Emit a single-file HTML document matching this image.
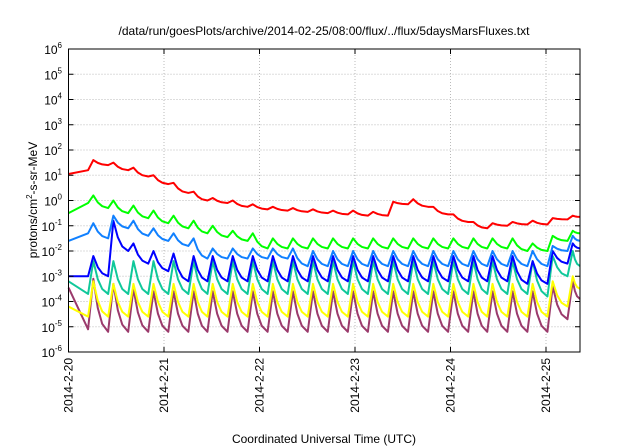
<!DOCTYPE html>
<html><head><meta charset="utf-8"><style>
body{margin:0;background:#fff;}
svg{display:block;font-family:"Liberation Sans",sans-serif;}
</style></head><body>
<svg id="chart" width="640" height="448" viewBox="0 0 640 448" xmlns="http://www.w3.org/2000/svg">
<text x="324" y="35" font-size="12" text-anchor="middle">/data/run/goesPlots/archive/2014-02-25/08:00/flux/../flux/5daysMarsFluxes.txt</text>
<g id="grid"></g>
<g id="series"></g>
<rect x="68.5" y="49" width="511.5" height="303" fill="none" stroke="#000" stroke-width="1"/>
<g id="axes"></g>
<text x="324" y="443" font-size="12" text-anchor="middle">Coordinated Universal Time (UTC)</text>
<text transform="translate(37,200) rotate(-90)" font-size="12" text-anchor="middle">protons/cm<tspan font-size="8" dy="-5">2</tspan><tspan dy="5">-s-sr-MeV</tspan></text>
</svg>
<script>
const dayLabels=["2014-2-20","2014-2-21","2014-2-22","2014-2-23","2014-2-24","2014-2-25"];
const decades=[-6,-5,-4,-3,-2,-1,0,1,2,3,4,5,6];
const riseDays=[0.23,0.44,0.65,0.86,1.07,1.28,1.48,1.69,1.90,2.11,2.32,2.53,2.74,2.95,3.16,3.37,3.58,3.79,4.00,4.21,4.41,4.62,4.83,5.04,5.25];
const endDay=5.356;
// log10 values: start, trough before each rise, peak after each rise, end
const redStart=1.05, redEnd=-0.65;
const redTrough=[1.2,1.4,1.2,0.95,0.65,0.3,0.0,-0.1,-0.25,-0.35,-0.4,-0.45,-0.5,-0.55,-0.6,-0.6,-0.15,-0.25,-0.55,-0.85,-1.1,-1.0,-0.95,-0.95,-0.75];
const redPeak=[1.6,1.5,1.3,1.0,0.7,0.35,0.1,0.0,-0.15,-0.25,-0.3,-0.35,-0.4,-0.4,-0.45,-0.05,0.05,-0.25,-0.55,-0.85,-0.9,-0.85,-0.8,-0.7,-0.6];
const greenStart=-0.5, greenEnd=-1.3;
const greenTrough=[-0.1,-0.3,-0.5,-0.7,-0.9,-1.1,-1.3,-1.45,-1.6,-1.9,-1.9,-1.9,-1.9,-1.9,-1.9,-1.9,-1.9,-1.9,-1.9,-1.9,-1.9,-1.9,-2.0,-2.0,-1.6];
const greenPeak=[0.2,0.0,-0.2,-0.4,-0.6,-0.8,-1.0,-1.2,-1.3,-1.5,-1.5,-1.5,-1.5,-1.5,-1.5,-1.5,-1.5,-1.5,-1.5,-1.5,-1.5,-1.5,-1.7,-1.4,-1.2];
const lblueStart=-1.6, lblueEnd=-1.6;
const lblueTrough=[-1.3,-1.5,-1.1,-1.4,-1.6,-1.8,-2.3,-2.3,-2.3,-2.3,-2.3,-2.6,-2.6,-2.6,-2.6,-2.6,-2.6,-2.6,-2.6,-2.6,-2.6,-2.6,-2.6,-2.6,-2.0];
const lbluePeak=[-0.9,-0.6,-0.8,-1.1,-1.3,-1.5,-1.9,-1.9,-1.9,-1.9,-1.9,-2.0,-2.0,-2.0,-2.0,-2.0,-2.0,-2.0,-2.0,-2.0,-2.0,-2.0,-2.0,-1.8,-1.4];
const dblueStart=-3.0, dblueEnd=-1.9;
const dblueTrough=[-3.0,-3.0,-2.0,-2.5,-2.8,-3.2,-3.2,-3.2,-3.2,-3.2,-3.2,-3.2,-3.2,-3.2,-3.2,-3.2,-3.2,-3.2,-3.2,-3.2,-3.2,-3.2,-3.3,-3.3,-2.5];
const dbluePeak=[-2.2,-0.8,-1.7,-2.0,-2.1,-2.2,-2.2,-2.2,-2.2,-2.2,-2.2,-2.2,-2.2,-2.2,-2.2,-2.2,-2.2,-2.2,-2.2,-2.2,-2.2,-2.2,-2.4,-2.0,-1.7];
const tealStart=-3.2, tealEnd=-2.6;
const tealTrough=[-3.7,-3.7,-3.7,-3.7,-3.7,-3.7,-3.7,-3.7,-3.7,-3.7,-3.7,-3.7,-3.7,-3.7,-3.7,-3.7,-3.7,-3.7,-3.7,-3.7,-3.7,-3.7,-3.7,-3.8,-3.0];
const tealPeak=[-2.4,-2.4,-2.4,-2.4,-2.4,-2.4,-2.4,-2.4,-2.4,-2.4,-2.4,-2.4,-2.4,-2.4,-2.4,-2.4,-2.4,-2.4,-2.4,-2.4,-2.4,-2.4,-2.4,-2.2,-2.0];
const yellowStart=-4.2, yellowEnd=-3.5;
const yellowTrough=[-4.6,-4.6,-4.6,-4.6,-4.6,-4.6,-4.6,-4.6,-4.6,-4.6,-4.6,-4.6,-4.6,-4.6,-4.6,-4.6,-4.6,-4.6,-4.6,-4.6,-4.6,-4.6,-4.6,-4.6,-4.2];
const yellowPeak=[-3.2,-3.3,-3.3,-3.3,-3.3,-3.3,-3.3,-3.3,-3.3,-3.3,-3.3,-3.3,-3.3,-3.3,-3.3,-3.3,-3.3,-3.3,-3.3,-3.3,-3.3,-3.3,-3.3,-3.2,-3.0];
const purpleStart=-3.45, purpleEnd=-3.9;
const purpleTrough=[-5.1,-5.2,-5.2,-5.2,-5.2,-5.2,-5.2,-5.2,-5.2,-5.2,-5.2,-5.2,-5.2,-5.2,-5.2,-5.2,-5.2,-5.2,-5.2,-5.2,-5.2,-5.2,-5.2,-5.2,-4.7];
const purplePeak=[-3.1,-3.3,-3.5,-3.6,-3.6,-3.6,-3.6,-3.6,-3.6,-3.6,-3.6,-3.6,-3.6,-3.6,-3.6,-3.6,-3.6,-3.6,-3.6,-3.6,-3.6,-3.6,-3.6,-3.4,-3.2];

const X0=68.5,X1=580,Y0=49,Y1=352;
const xs=t=>X0+t/endDay*(X1-X0);
const ys=l=>Y1-(l+6)/12*(Y1-Y0);
const NS="http://www.w3.org/2000/svg";
const mk=(tag,attrs,parent)=>{const e=document.createElementNS(NS,tag);for(const k in attrs)e.setAttribute(k,attrs[k]);parent.appendChild(e);return e;};
const grid=document.getElementById('grid'),axes=document.getElementById('axes'),ser=document.getElementById('series');
decades.forEach(d=>{
  const y=ys(d);
  if(d>-6&&d<6){const g=mk('line',{x1:X0,x2:X1,y1:y,y2:y,stroke:'#bbb','stroke-width':1,'stroke-dasharray':'1,2'},grid);
  
  }
  const tk=mk('path',{d:`M${X0},${y}h5M${X1},${y}h-5`,stroke:'#000'},axes);
  
  
  const t=mk('text',{x:62,y:y+5,'font-size':12,'text-anchor':'end'},axes);
  
  
  t.textContent='10';
  const s=mk('tspan',{'font-size':8,dy:-6},t);s.textContent=String(d);
});
dayLabels.forEach((lab,i)=>{
  const x=xs(i);
  if(i>0){const g=mk('line',{x1:x,x2:x,y1:Y0,y2:Y1,stroke:'#bbb','stroke-width':1,'stroke-dasharray':'1,2'},grid);
  
  }
  const tk=mk('path',{d:`M${x},${Y1}v-5M${x},${Y0}v5`,stroke:'#000'},axes);
  
  
  const t=mk('text',{transform:`translate(${x+4},${358}) rotate(-90)`,'font-size':12,'text-anchor':'end'},axes);
  
  
  t.textContent=lab;
});
const series=[
 ['purple-series','#9b3a6c',purpleStart,purpleTrough,purplePeak,purpleEnd],
 ['yellow-series','#ffff00',yellowStart,yellowTrough,yellowPeak,yellowEnd],
 ['teal-series','#10c89a',tealStart,tealTrough,tealPeak,tealEnd],
 ['dark-blue-series','#0000ff',dblueStart,dblueTrough,dbluePeak,dblueEnd],
 ['light-blue-series','#1080ff',lblueStart,lblueTrough,lbluePeak,lblueEnd],
 ['green-series','#00ff00',greenStart,greenTrough,greenPeak,greenEnd],
 ['red-series','#ff0000',redStart,redTrough,redPeak,redEnd]];
const decayFr=[0.3,0.6];
const decayF=[0.45,0.15];
series.forEach(([name,col,st,tr,pk,en])=>{
  let d=`M${xs(0)},${ys(st)}`;
  // initial decay from start to first trough
  riseDays.forEach((t,i)=>{
    d+=`L${xs(t-0.025)},${ys(tr[i])}L${xs(t+0.03)},${ys(pk[i])}`;
    const tn=(i+1<riseDays.length)?riseDays[i+1]-0.025:endDay;
    const vn=(i+1<riseDays.length)?tr[i+1]:en;
    const t0=t+0.03;
    decayFr.forEach((f,j)=>{
      d+=`L${xs(t0+(tn-t0)*f)},${ys(vn+(pk[i]-vn)*decayF[j])}`;
    });
  });
  d+=`L${xs(endDay)},${ys(en)}`;
  const p=mk('path',{d:d,fill:'none',stroke:col,'stroke-width':2,'stroke-linejoin':'round'},ser);
  
  
});
</script>
</body></html>
